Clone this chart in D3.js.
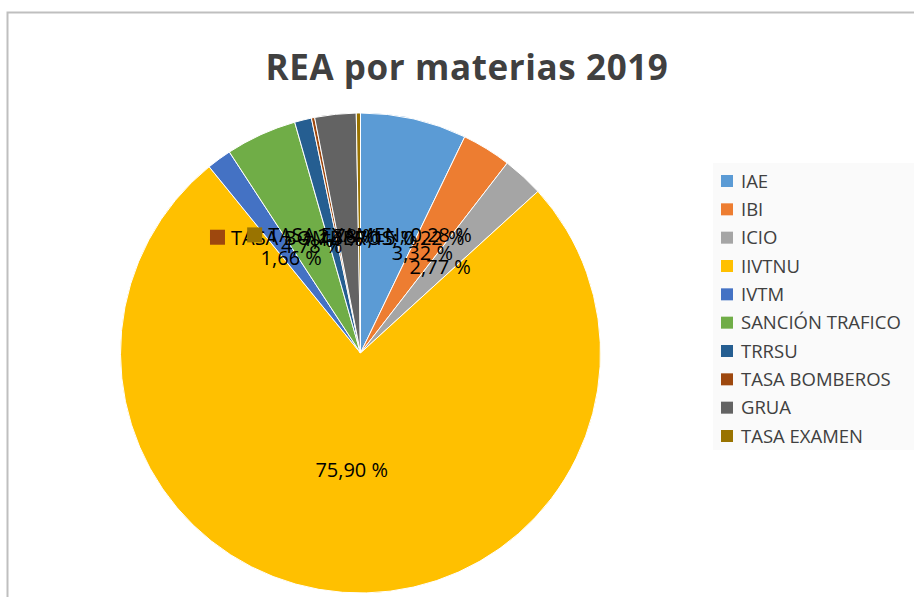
<!DOCTYPE html>
<html><head><meta charset="utf-8">
<script src="https://cdn.jsdelivr.net/npm/d3@7"></script>
<style>body{margin:0;background:#fff}svg{display:block}</style>
</head><body>
<svg id="c" width="914" height="597"></svg>
<script>
const categories = ["IAE","IBI","ICIO","IIVTNU","IVTM","SANCIÓN TRAFICO","TRRSU","TASA BOMBEROS","GRUA","TASA EXAMEN"];
const values = [7.15,3.32,2.77,75.90,1.66,4.78,1.14,0.22,2.78,0.28];
const colors = ["#5B9BD5","#ED7D31","#A5A5A5","#FFC000","#4472C4","#70AD47","#255E91","#9E480E","#636363","#997300"];
const namedLabels = ["TASA BOMBEROS","TASA EXAMEN"];
const title = "REA por materias 2019";

const svg = d3.select("#c");
const W = 914, H = 597;
svg.append("rect").attr("x",7.5).attr("y",12.5).attr("width",W+20).attr("height",H+20)
  .attr("fill","#fff").attr("stroke","#BFBFBF").attr("stroke-width",2);

svg.append("text").attr("x",467).attr("y",80).attr("text-anchor","middle")
  .attr("font-family","Open Sans").attr("font-weight","bold").attr("font-size",35)
  .attr("letter-spacing",0.6)
  .attr("fill","#404040").text(title);

const cx = 360.5, cy = 353, R = 240;
const data = categories.map((c,i)=>({cat:c, v:values[i], col:colors[i]}));
const pie = d3.pie().value(d=>d.v).sort(null);
const arcs = pie(data);
const arc = d3.arc().innerRadius(0).outerRadius(R);
const labelArc = d3.arc().innerRadius(R*0.49).outerRadius(R*0.49);
const g = svg.append("g").attr("transform",`translate(${cx},${cy})`);
g.selectAll("path").data(arcs).join("path").attr("d",arc)
  .attr("fill",d=>d.data.col).attr("stroke","#fff").attr("stroke-width",1);

const fmt = v => d3.format(".2f")(v).replace(".",",") + " %";
const lg = g.append("g");
arcs.forEach(d=>{
  const [x,y] = labelArc.centroid(d);
  const named = namedLabels.includes(d.data.cat);
  const t = lg.append("text").attr("x",x).attr("y",y).attr("dy","0.35em")
    .attr("text-anchor","middle").attr("font-family","Open Sans").attr("font-size",20)
    .attr("fill","#000").text(named ? d.data.cat + "; " + fmt(d.data.v) : fmt(d.data.v));
  if(named){
    const w = t.node().getComputedTextLength();
    const kw = 15, gap = 6;
    const total = w + kw + gap;
    t.attr("text-anchor","start").attr("x", x - total/2 + kw + gap);
    lg.append("rect").attr("x",x - total/2).attr("y",y-8).attr("width",kw).attr("height",kw)
      .attr("fill",d.data.col);
  }
});

const lgX = 713, lgY = 163;
svg.append("rect").attr("x",lgX).attr("y",lgY).attr("width",W-lgX).attr("height",287).attr("fill","#FAFAFA");
const ly = d3.scalePoint().domain(categories).range([181,436]);
const leg = svg.append("g");
categories.forEach((c,i)=>{
  leg.append("rect").attr("x",721).attr("y",ly(c)-6).attr("width",12).attr("height",12).attr("fill",colors[i]);
  leg.append("text").attr("x",741).attr("y",ly(c)).attr("dy","0.36em")
    .attr("font-family","Open Sans").attr("font-size",18.5).attr("fill","#404040").text(c);
});
</script>
</body></html>
